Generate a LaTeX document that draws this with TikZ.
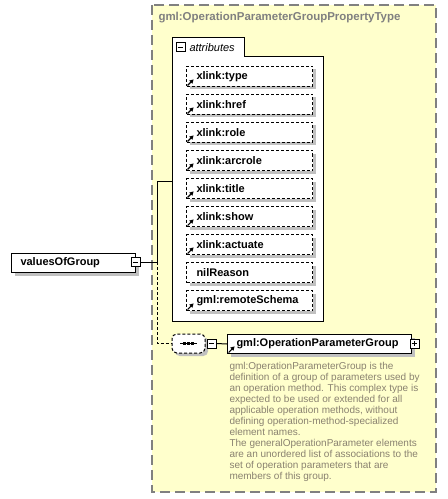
\documentclass[tikz,border=0pt]{standalone}
\usepackage{fontspec}
\setmainfont{Liberation Sans}
\usetikzlibrary{shadows,arrows.meta,calc}
\definecolor{bgyellow}{HTML}{FFFFCC}
\definecolor{framegrey}{HTML}{808080}
\definecolor{shad}{HTML}{C0C0C0}
\definecolor{desccol}{HTML}{8A8270}
\begin{document}
\begin{tikzpicture}[x=0.75pt,y=-0.75pt,line width=0.75pt,
  shadowed/.style={drop shadow={shadow xshift=2.25pt,shadow yshift=-2.25pt,fill=shad,opacity=1}},
  lbl/.style={font=\fontsize{8.25pt}{10pt}\selectfont\bfseries},
  attrbox/.style={draw=black,dash pattern=on 2.25pt off 1.5pt,fill=white,shadowed,
    anchor=north west,inner ysep=0pt,inner xsep=7.5pt,text width=79.5pt,align=left,
    minimum height=15pt,lbl},
  elbox/.style={draw=black,fill=white,shadowed,anchor=north west,inner ysep=0pt,
    inner xsep=6.75pt,align=left,minimum height=14.25pt,lbl},
  pmbox/.style={draw=black,fill=white,minimum size=6.75pt,inner sep=0pt,
    path picture={\draw[line width=0.6pt] ([xshift=1.2pt]path picture bounding box.west) -- ([xshift=-1.2pt]path picture bounding box.east);}},
  plusbox/.style={pmbox,
    path picture={\draw[line width=0.6pt] ([xshift=1.2pt]path picture bounding box.west) -- ([xshift=-1.2pt]path picture bounding box.east);
      \draw[line width=0.6pt] ([yshift=-1.2pt]path picture bounding box.north) -- ([yshift=1.2pt]path picture bounding box.south);}},
  icon/.style={-{Triangle[length=3pt,width=3.2pt]},line width=0.8pt},
  desc/.style={font=\fontsize{7.5pt}{8.25pt}\selectfont,text=desccol,align=left,inner sep=0pt,anchor=north west}
]
\useasboundingbox (0,0) rectangle (447,499);
% outer complex type box
\draw[framegrey,fill=bgyellow,line width=1.2pt,dash pattern=on 7.5pt off 3.75pt] (152,5) rectangle (436,492);
\node[anchor=west,inner sep=0pt,text=framegrey,font=\fontsize{8.6pt}{10pt}\selectfont\bfseries] (title) at (158,18) {gml:OperationParameterGroupPropertyType};
% attributes group
\draw[fill=white] (172,38) -- (244,38) -- (244,57) -- (323,57) -- (323,321) -- (172,321) -- cycle;
\coordinate (agl) at (172,181);
\node[pmbox] (am) at (180.5,47.5) {};
\node[anchor=west,inner sep=0pt,font=\fontsize{8.25pt}{10pt}\selectfont\itshape] (atitle) at (189,47.5) {attributes};
\foreach \t [count=\i] in {xlink:type,xlink:href,xlink:role,xlink:arcrole,xlink:title,xlink:show,xlink:actuate,nilReason,gml:remoteSchema}{
  \node[attrbox] (a\i) at (186,{38+28*\i}) {\t};
  \ifnum\i=8\relax\else
    \draw[icon] ([xshift=1.2pt,yshift=1.2pt]a\i.south west) -- ++(6,-6);
  \fi
}
% valuesOfGroup element
\node[elbox,minimum width=93pt,text width=79.5pt] (v) at (11,253) {valuesOfGroup};
\node[pmbox] (vm) at (135.5,262) {};
\coordinate (j) at (157,262);
% sequence compositor
\node[draw=black,dash pattern=on 2.25pt off 1.5pt,fill=white,shadowed,rounded corners=3.5pt,
  minimum width=24.75pt,minimum height=14.25pt,inner sep=0pt] (seq) at (188.5,343.5) {};
\draw (180,343.5) -- (197,343.5);
\foreach \xx in {184.5,188.5,192.5} \fill (\xx-1.4,342.1) rectangle (\xx+1.4,344.9);
\node[pmbox] (sm) at (211.5,343.5) {};
% OperationParameterGroup element
\node[elbox,minimum width=138pt,text width=124.5pt] (op) at (227,334) {gml:OperationParameterGroup};
\draw[icon] ([xshift=1.2pt,yshift=1.2pt]op.south west) -- ++(6,-6);
\node[plusbox] (opp) at (414.5,343.5) {};
% connectors
\draw (vm.east) -- (j);
\draw (j) |- (agl);
\draw[dash pattern=on 2.25pt off 1.5pt] (j) |- (seq.west);
\draw (sm.east) -- (op.west);
% documentation
\node[desc] (d) at (229,362) {gml:OperationParameterGroup is the\\
definition of a group of parameters used by\\
an operation method. This complex type is\\
expected to be used or extended for all\\
applicable operation methods, without\\
defining operation-method-specialized\\
element names.\\
The generalOperationParameter elements\\
are an unordered list of associations to the\\
set of operation parameters that are\\
members of this group.};
\end{tikzpicture}
\end{document}
